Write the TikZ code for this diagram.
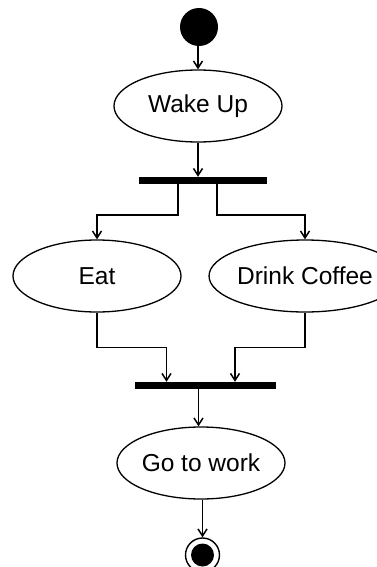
\documentclass[tikz,border=0pt]{standalone}
\usepackage{fontspec}
\setmainfont{Liberation Sans}
\usetikzlibrary{shapes.geometric,arrows.meta}

\tikzset{
  activity/.style={ellipse, draw=black, line width=1.3pt, inner sep=0pt,
    minimum width=168pt, minimum height=72pt, font=\fontsize{24.5}{27}\selectfont},
  syncbar/.style={fill=black, inner sep=0pt, minimum height=7pt},
  flow/.style={draw=black, line width=1.5pt,
    -{Straight Barb[length=7pt,width=9pt,line width=1.5pt]}}
}

\begin{document}
\begin{tikzpicture}[x=1pt,y=-1pt]
  \useasboundingbox[fill=white] (0,0) rectangle (376,567);

  % initial and final states
  \node[circle, fill=black, minimum size=38pt, inner sep=0pt] (start) at (199,27) {};
  \node[circle, draw=black, line width=1.4pt, minimum size=34pt, inner sep=0pt] (finish) at (202.5,555) {};
  \node[circle, fill=black, minimum size=23pt, inner sep=0pt] (finishdot) at (finish) {};

  % activities
  \node[activity] (wakeup) at (198,106) {Wake Up};
  \node[activity] (eat) at (97,276) {Eat};
  \node[activity] (coffee) at (305,276) {Drink Coffee};
  \node[activity] (gowork) at (201,463) {Go to work};

  % fork and join bars
  \node[syncbar, minimum width=128pt] (fork) at (203,180.5) {};
  \node[syncbar, minimum width=141pt] (join) at (205.5,385.5) {};

  % control flow
  \draw[flow] (start.south -| wakeup.north) -- (wakeup.north);
  \draw[flow] (wakeup.south) -- (wakeup.south |- fork.north);
  \draw[flow] ([xshift=-25pt]fork.south) -- ++(0,31) -| (eat.north);
  \draw[flow] ([xshift=14pt]fork.south) -- ++(0,31) -| (coffee.north);
  \draw[flow] (eat.south) -- ++(0,35) -| ([xshift=-39pt]join.north);
  \draw[flow] (coffee.south) -- ++(0,35) -| ([xshift=29.5pt]join.north);
  \draw[flow] ([xshift=-7pt]join.south) coordinate (joinout) -- (joinout |- gowork.north);
  \draw[flow] (gowork.south -| finish.north) -- (finish.north);
\end{tikzpicture}
\end{document}
